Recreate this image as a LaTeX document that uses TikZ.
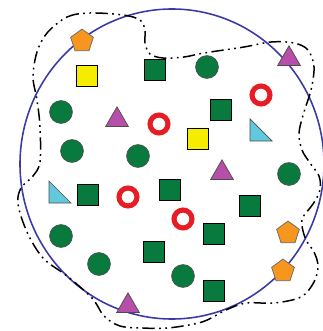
\documentclass[tikz,border=0pt]{standalone}
\usetikzlibrary{shapes.geometric}
\definecolor{dgreen}{RGB}{8,122,62}
\definecolor{syellow}{RGB}{246,236,0}
\definecolor{spurple}{RGB}{182,78,170}
\definecolor{sred}{RGB}{232,28,36}
\definecolor{scyan}{RGB}{98,200,222}
\definecolor{sorange}{RGB}{246,150,30}
\definecolor{sblue}{RGB}{58,58,168}
\tikzset{
    gcirc/.style={circle,draw=black!70,fill=dgreen,line width=.4pt,inner sep=0pt,minimum size=13pt},
    gsq/.style={rectangle,draw=black,fill=dgreen,line width=.5pt,inner sep=0pt,minimum size=11.8pt},
    ysq/.style={rectangle,draw=black,fill=syellow,line width=.5pt,inner sep=0pt,minimum size=11.8pt},
    ptri/.style={regular polygon,regular polygon sides=3,draw=black!70,fill=spurple,line width=.4pt,inner sep=0pt,minimum size=15pt},
    opent/.style={regular polygon,regular polygon sides=5,draw=black!60,fill=sorange,line width=.4pt,inner sep=0pt,minimum size=13.6pt},
    rring/.style={circle,draw=sred,fill=white,line width=2.9pt,inner sep=0pt,minimum size=10.2pt},
    ctri/.style={draw=black!70,fill=scyan,line width=.4pt},
    outline/.style={line width=.85pt,dash pattern=on 7pt off 2.5pt on 1pt off 2.5pt on 1pt off 2.5pt}
}
\begin{document}
\begin{tikzpicture}[x=0.02cm,y=-0.02cm]
\useasboundingbox (0,0) rectangle (322,331);

% the set
\draw[sblue,line width=.9pt] (172,164) circle [x radius=152,y radius=155];

% the sample
\draw[outline] plot[smooth cycle,tension=.55] coordinates {
  (47,33) (67,17) (90,13) (123,15) (140,20) (145,30) (145,43) (150,54)
  (163,58) (184,57) (204,53) (244,47) (271,42) (294,43) (308,50) (314,67)
  (311,90) (304,112) (299,133) (302,150) (310,163) (319,176) (320,190)
  (313,204) (303,217) (302,226) (306,240) (314,252) (318,266) (314,282)
  (301,297) (274,303) (246,303) (226,310) (202,322) (168,328) (143,328)
  (120,326) (104,316) (92,298) (67,276) (43,258) (27,232) (18,204)
  (21,188) (33,176) (40,162) (40,127) (37,100) (33,77) (37,52)};

% circles
\foreach \x/\y [count=\i] in {207/67,61/112,72/151,138/156,289/174,61/236,99/264,183/276}
    \node[gcirc] (c\i) at (\x,\y) {};
% green squares
\foreach \x/\y [count=\i] in {155/70,221/110,88/195,170/190,250/206,214/234,154/252,214/291}
    \node[gsq] (s\i) at (\x,\y) {};
% yellow squares
\node[ysq] (y1) at (87,76) {};
\node[ysq] (y2) at (198,139) {};
% rings
\foreach \x/\y [count=\i] in {261/95,159/124,128/197,183/219}
    \node[rring] (r\i) at (\x,\y) {};
% triangles
\foreach \x/\y [count=\i] in {289/59,117/120,222/173,128/306}
    \node[ptri] (t\i) at (\x,\y) {};
% pentagons
\foreach \x/\y [count=\i] in {82/41,288/233,283/271}
    \node[opent] (p\i) at (\x,\y) {};
% right triangles
\coordinate (q1) at (261,130);
\coordinate (q2) at (60,192);
\draw[ctri] (q1) ++(-11,-11) -- ++(0,22) -- ++(22,0) -- cycle;
\draw[ctri] (q2) ++(-11,-11) -- ++(0,22) -- ++(22,0) -- cycle;

\end{tikzpicture}
\end{document}
